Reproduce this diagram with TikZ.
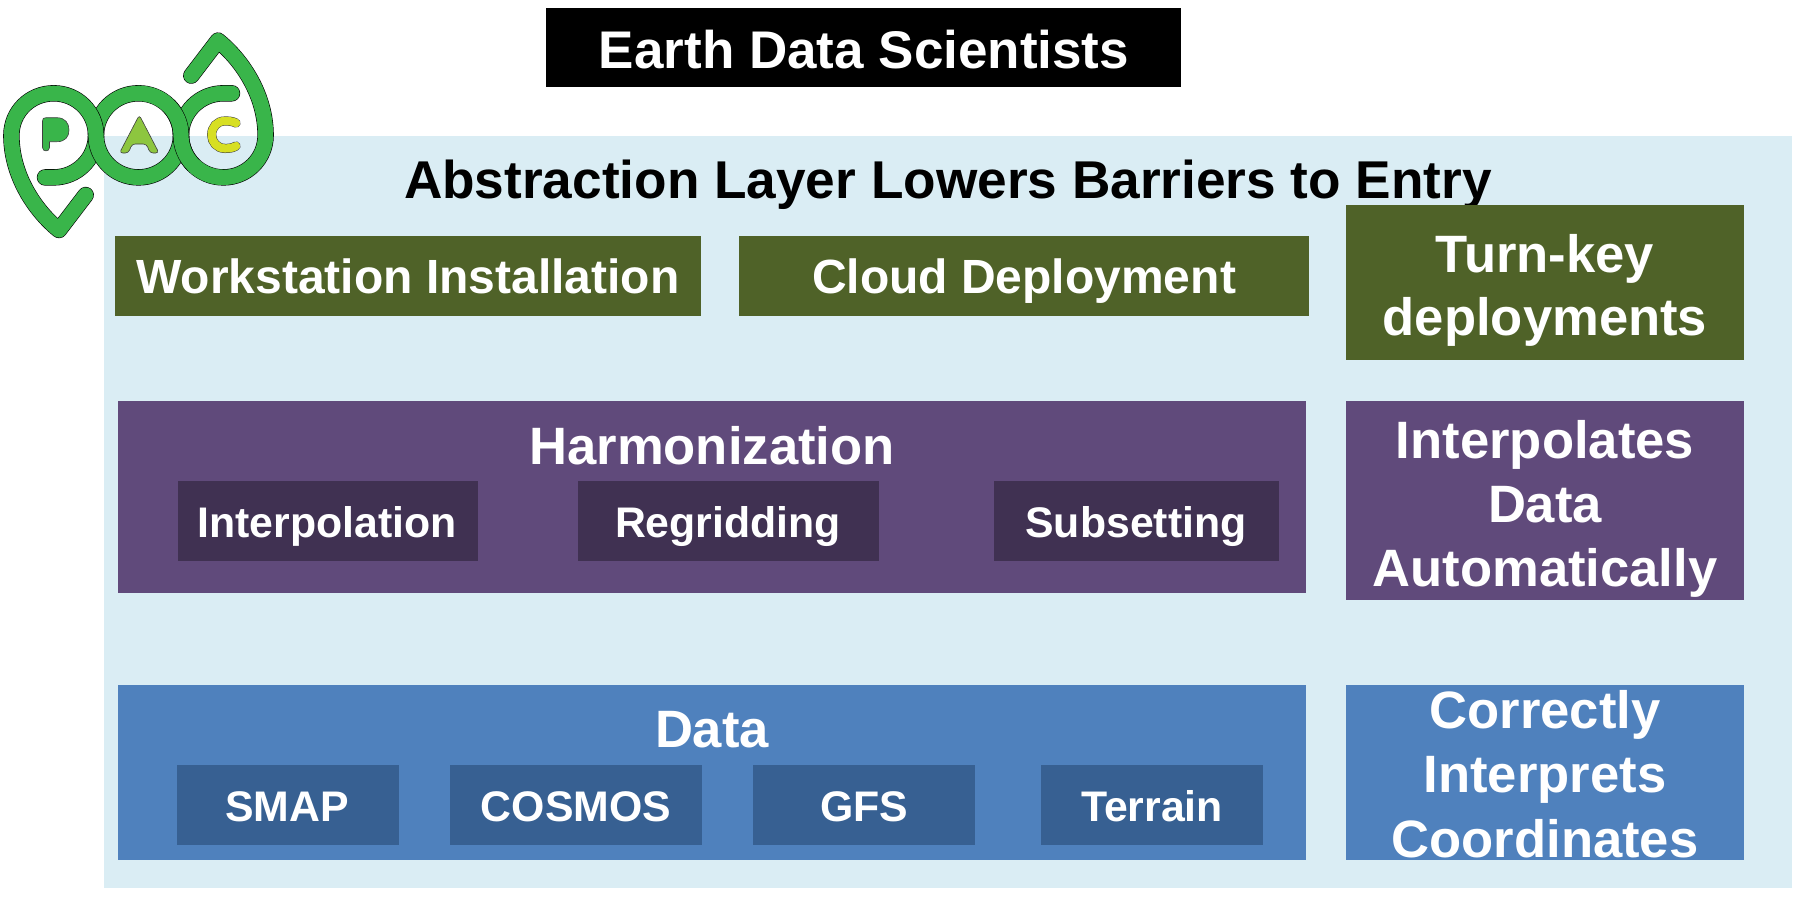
\documentclass[tikz,border=0pt]{standalone}
\usepackage{fontspec}
\setmainfont{Liberation Sans}
\definecolor{panelc}{HTML}{DAEDF4}
\definecolor{olive}{HTML}{4F6228}
\definecolor{purp}{HTML}{604A7B}
\definecolor{purpd}{HTML}{403152}
\definecolor{blu}{HTML}{4F81BD}
\definecolor{blud}{HTML}{376092}
\definecolor{pacg}{HTML}{39B54A}
\definecolor{paca}{HTML}{8DC63F}
\definecolor{pacc}{HTML}{D7DF23}
\newcommand{\fs}[1]{\fontsize{#1}{#1}\selectfont\bfseries}
\tikzset{
 x=0.5pt,y=-0.5pt,
 lab/.style={anchor=base,inner sep=0pt,outer sep=0pt,text=white,font=\fs{26.3}},
 wide/.style={lab,font=\fs{24}},
 sub/.style={anchor=base,inner sep=0pt,outer sep=0pt,text=white,font=\fs{21.4}},
 ringo/.style={line cap=round,line join=round,draw=black,line width=8.2pt},
 ringi/.style={line cap=round,line join=round,draw=pacg,line width=7.6pt},
 letter/.style={draw=black!75,line width=.3pt,line join=round},
}
\begin{document}
\begin{tikzpicture}
\useasboundingbox (0,0) rectangle (1800,896);
\fill[panelc] (104,136) rectangle (1792,888);
% title
\fill[black] (546,8) rectangle (1181,87);
\node[lab,font=\fs{26.5}] (title) at (864,68) {Earth Data Scientists};
\node[lab,text=black,font=\fs{26.6}] (abs) at (948,198) {Abstraction Layer Lowers Barriers to Entry};
% green row
\fill[olive] (115,236) rectangle (701,316);
\node[wide] (ws) at (408,293) {Workstation Installation};
\fill[olive] (739,236) rectangle (1309,316);
\node[wide] (cd) at (1024,293) {Cloud Deployment};
\fill[olive] (1346,205) rectangle (1744,360);
\node[lab] (tk1) at (1545,272) {Turn-key};
\node[lab] (tk2) at (1545,335) {deployments};
% purple
\fill[purp] (118,401) rectangle (1306,593);
\node[lab] (harm) at (712,464) {Harmonization};
\fill[purpd] (178,481) rectangle (478,561);
\node[sub] (interp) at (327,537) {Interpolation};
\fill[purpd] (578,481) rectangle (879,561);
\node[sub] (regrid) at (728,537) {Regridding};
\fill[purpd] (994,481) rectangle (1279,561);
\node[sub] (subs) at (1136,537) {Subsetting};
\fill[purp] (1346,401) rectangle (1744,600);
\node[lab] (ia) at (1545,458) {Interpolates};
\node[lab] (ib) at (1545,522) {Data};
\node[lab] (ic) at (1545,586) {Automatically};
% blue
\fill[blu] (118,685) rectangle (1306,860);
\node[lab] (data) at (712,747) {Data};
\fill[blud] (177,765) rectangle (399,845);
\node[sub] (smap) at (287,821) {SMAP};
\fill[blud] (450,765) rectangle (702,845);
\node[sub] (cosmos) at (576,821) {COSMOS};
\fill[blud] (753,765) rectangle (975,845);
\node[sub] (gfs) at (864,821) {GFS};
\fill[blud] (1041,765) rectangle (1263,845);
\node[sub] (terr) at (1152,821) {Terrain};
\fill[blu] (1346,685) rectangle (1744,860);
\node[lab] (c1) at (1545,728) {Correctly};
\node[lab] (c2) at (1545,792) {Interprets};
\node[lab] (c3) at (1545,857) {Coordinates};
% logo strands
\def\strandY{(45,177.4) -- (53.7,177.4) .. controls (77,177.4) and (96,158.5) .. (96,135.3) .. controls (96,112) and (115,93.3) .. (138.4,93.3) .. controls (162,93.3) and (181,112) .. (181,135.3) .. controls (181,158.5) and (200,177.4) .. (223.4,177.4) .. controls (247,177.4) and (265.6,158.5) .. (265.6,135.3) .. controls (265.6,95) and (242,60) .. (218,40.6) -- (191.3,75.6)}
\def\strandX{(85.7,195) -- (59,230) .. controls (35,210.6) and (11.4,175.6) .. (11.4,135.3) .. controls (11.4,112) and (30,93.3) .. (53.7,93.3) .. controls (77,93.3) and (96,112) .. (96,135.3) .. controls (96,158.5) and (115,177.4) .. (138.4,177.4) .. controls (162,177.4) and (181,158.5) .. (181,135.3) .. controls (181,112) and (200,93.3) .. (223.4,93.3) -- (232,93.3)}
\def\strandTop{(138.4,93.3) .. controls (162,93.3) and (181,112) .. (181,135.3) .. controls (181,158.5) and (200,177.4) .. (223.4,177.4)}
\def\strandEdge{(168.4,105.3) .. controls (176.3,113.2) and (181,124.2) .. (181,135.3) .. controls (181,146.4) and (185.7,157.4) .. (193.6,165.3)}
\draw[ringo] \strandY;
\draw[ringi] \strandY;
\draw[ringo] \strandX;
\draw[ringi] \strandX;
\draw[ringo,line cap=butt] \strandEdge;
\draw[ringi,line cap=butt] \strandTop;
% logo letters
\fill[pacg] (42.5,121) .. controls (42.5,118.5) and (43.5,117.7) .. (46,117.7) -- (57,117.7) .. controls (65,117.7) and (69,123) .. (69,130) .. controls (69,137) and (65,141.7) .. (57,141.7) -- (49.5,141.7) -- (49.5,147.5) .. controls (49.5,152) and (42.5,152) .. (42.5,147.5) -- cycle;
\draw[letter] (42.5,121) .. controls (42.5,118.5) and (43.5,117.7) .. (46,117.7) -- (57,117.7) .. controls (65,117.7) and (69,123) .. (69,130) .. controls (69,137) and (65,141.7) .. (57,141.7) -- (49.5,141.7) -- (49.5,147.5) .. controls (49.5,152) and (42.5,152) .. (42.5,147.5) -- cycle;
\draw[letter,fill=paca,rounded corners=1.6pt] (139.3,115) -- (159,153) -- (150,153) -- (146.5,144) -- (132,144) -- (128.5,153) -- (119.5,153) -- cycle;
\draw[line width=4.6pt,line cap=round,draw=black!75] (236,123) .. controls (232,121) and (228,121) .. (225,121) .. controls (217,121) and (211.7,127) .. (211.7,135) .. controls (211.7,142) and (217,148.4) .. (225,148.4) .. controls (228,148.4) and (232,148.4) .. (236,146);
\draw[line width=4.1pt,line cap=round,draw=pacc] (236,123) .. controls (232,121) and (228,121) .. (225,121) .. controls (217,121) and (211.7,127) .. (211.7,135) .. controls (211.7,142) and (217,148.4) .. (225,148.4) .. controls (228,148.4) and (232,148.4) .. (236,146);
\end{tikzpicture}
\end{document}
